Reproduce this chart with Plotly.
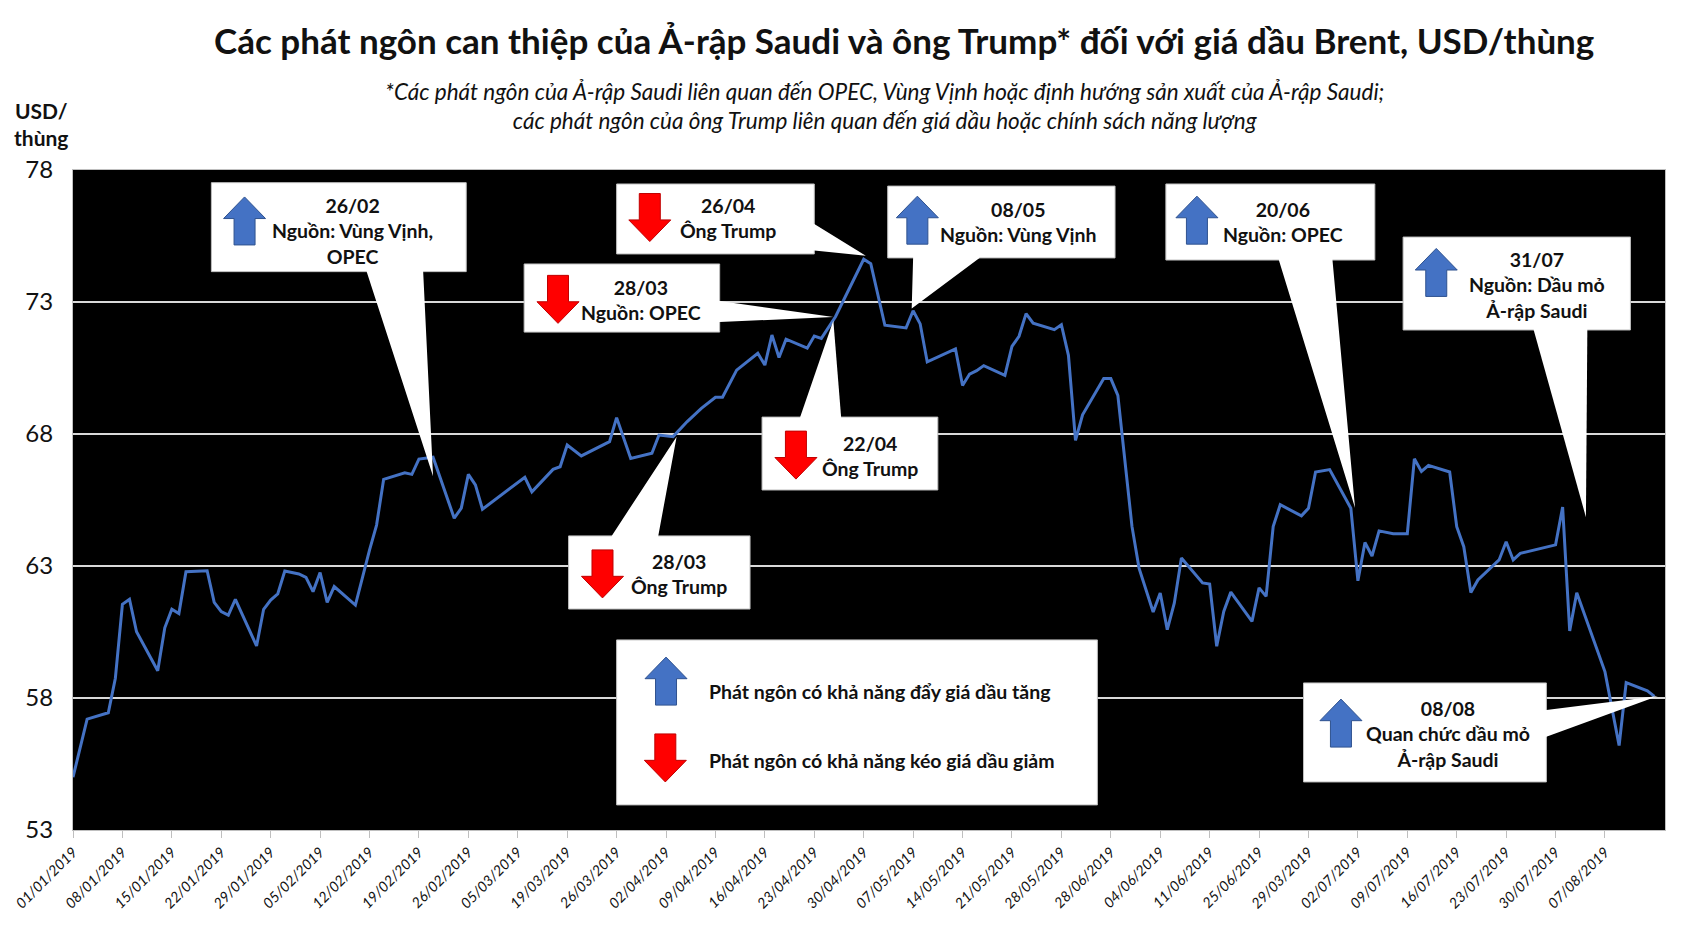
import plotly.graph_objects as go

# Giá dầu Brent, USD/thùng; ngay = số ngày tính từ 01/01/2019 (vị trí trên trục danh mục)
ngay = [0, 2, 5, 6, 7, 8, 9, 12, 13, 14, 15, 16, 19, 20, 21, 22, 23, 26, 27, 28,
        29, 30, 32, 33, 34, 35, 36, 37, 40, 41, 42, 43, 44, 47, 48, 49, 50, 51, 54, 55,
        56, 57, 58, 64, 65, 68, 69, 70, 72, 76, 77, 79, 82, 83, 85, 87, 89, 91, 92, 94,
        97, 98, 99, 100, 101, 104, 105, 106, 108, 112, 113, 115, 118, 119, 120, 121, 125, 126, 127, 128,
        129, 132, 133, 134, 135, 136, 139, 140, 141, 142, 143, 146, 147, 148, 150, 151, 153, 154, 155, 156,
        157, 160, 161, 162, 163, 164, 167, 168, 169, 170, 171, 174, 175, 176, 178, 181, 182, 183, 184, 185,
        187, 189, 190, 191, 192, 195, 196, 197, 198, 199, 202, 203, 204, 205, 210, 211, 212, 213, 217, 219,
        220, 223, 224]
gia = [55.0, 57.2, 57.44, 58.75, 61.55, 61.74, 60.51, 59.03, 60.66, 61.36, 61.2, 62.78, 62.82, 61.62, 61.27, 61.14, 61.74, 59.97, 61.36, 61.71,
       61.94, 62.81, 62.7, 62.57, 62.03, 62.75, 61.62, 62.22, 61.52, 62.57, 63.6, 64.55, 66.28, 66.53, 66.47, 67.05, 67.08, 67.12, 64.81, 65.19,
       66.47, 66.07, 65.15, 66.36, 65.81, 66.66, 66.76, 67.58, 67.17, 67.71, 68.62, 67.07, 67.27, 67.96, 67.9, 68.47, 68.97, 69.39, 69.39, 70.42,
       71.06, 70.61, 71.75, 70.9, 71.59, 71.25, 71.71, 71.62, 72.44, 74.62, 74.45, 72.12, 72.02, 72.67, 72.17, 70.73, 71.22, 69.84, 70.27, 70.4,
       70.59, 70.22, 71.32, 71.7, 72.56, 72.2, 71.95, 72.14, 70.98, 67.76, 68.73, 70.1, 70.1, 69.46, 64.5, 62.92, 61.26, 61.98, 60.59, 61.6,
       63.3, 62.36, 62.32, 59.96, 61.28, 62.01, 60.9, 62.17, 61.85, 64.49, 65.32, 64.9, 65.19, 66.56, 66.65, 65.19, 62.44, 63.89, 63.38, 64.33,
       64.22, 64.22, 67.06, 66.58, 66.81, 66.56, 64.49, 63.73, 62.0, 62.47, 63.23, 63.92, 63.23, 63.48, 63.8, 65.23, 60.54, 61.99, 58.99, 56.2,
       58.58, 58.27, 58.06]

nhan_ngay = ["01/01/2019", "08/01/2019", "15/01/2019", "22/01/2019", "29/01/2019", "05/02/2019",
             "12/02/2019", "19/02/2019", "26/02/2019", "05/03/2019", "19/03/2019", "26/03/2019",
             "02/04/2019", "09/04/2019", "16/04/2019", "23/04/2019", "30/04/2019", "07/05/2019",
             "14/05/2019", "21/05/2019", "28/05/2019", "28/06/2019", "04/06/2019", "11/06/2019",
             "25/06/2019", "29/03/2019", "02/07/2019", "09/07/2019", "16/07/2019", "23/07/2019",
             "30/07/2019", "07/08/2019"]
buoc_nhan = 7

gia_ticks = [53, 58, 63, 68, 73, 78]

W, H = 1689, 931
margin = dict(l=73, r=24, t=170, b=101)
x_range = [0, 225.5]
y_range = [53, 78]
px_x = (W - margin["l"] - margin["r"]) / (x_range[1] - x_range[0])
px_y = (H - margin["t"] - margin["b"]) / (y_range[1] - y_range[0])

BLUE = "#4472C4"
BLUE_EDGE = "#2F528F"
RED = "#FF0000"
RED_EDGE = "#C00000"
FONT = "Lato"
TXT = "#111111"


def arrow_path(cx, cy, up, w=42, h=48):
    hw = w / 2 / px_x
    sw = w / 4 / px_x
    hh = h / 2 / px_y
    head = 0.45 * h / px_y
    s = 1 if up else -1
    tip_y = cy + s * hh
    neck_y = tip_y - s * head
    base_y = cy - s * hh
    pts = [(cx, tip_y), (cx + hw, neck_y), (cx + sw, neck_y), (cx + sw, base_y),
           (cx - sw, base_y), (cx - sw, neck_y), (cx - hw, neck_y)]
    return "M " + " L ".join("{:.3f},{:.3f}".format(x, y) for x, y in pts) + " Z"


def arrow_shape(cx, cy, up):
    return dict(type="path", path=arrow_path(cx, cy, up), xref="x", yref="y",
                fillcolor=BLUE if up else RED, line=dict(color=BLUE_EDGE if up else RED_EDGE, width=1),
                layer="above")


# callout boxes: box=(x0, y0, x1, y1), tail base side, base points, tip
callouts = [
    dict(box=(19.6, 74.15, 55.7, 77.52), side="bottom", base=(41.6, 49.6), tip=(51, 66.4),
         text="26/02<br>Nguồn: Vùng Vịnh,<br>OPEC", t=(39.6, 75.69), a=(24.3, 76.07), up=True),
    dict(box=(77.0, 74.82, 105.0, 77.47), side="right", base=(75.95, 74.95), tip=(112.3, 74.75),
         text="26/04<br>Ông Trump", t=(92.8, 76.18), a=(81.7, 76.2), up=False),
    dict(box=(115.4, 74.67, 147.6, 77.39), side="bottom", base=(119.0, 128.4), tip=(118.8, 72.75),
         text="08/05<br>Nguồn: Vùng Vịnh", t=(133.9, 76.03), a=(119.6, 76.1), up=True),
    dict(box=(63.9, 71.86, 91.6, 74.44), side="right", base=(73.04, 72.24), tip=(107.7, 72.43),
         text="28/03<br>Nguồn: OPEC", t=(80.4, 73.08), a=(68.7, 73.1), up=False),
    dict(box=(97.6, 65.88, 122.5, 68.64), side="top", base=(103.0, 108.8), tip=(107.7, 72.3),
         text="22/04<br>Ông Trump", t=(112.9, 67.17), a=(102.4, 67.2), up=False),
    dict(box=(70.2, 61.37, 95.9, 64.14), side="top", base=(76.3, 82.9), tip=(85.5, 67.9),
         text="28/03<br>Ông Trump", t=(85.8, 62.7), a=(75.0, 62.7), up=False),
    dict(box=(154.8, 74.59, 184.4, 77.47), side="bottom", base=(170.8, 178.4), tip=(181.6, 65.2),
         text="20/06<br>Nguồn: OPEC", t=(171.4, 76.03), a=(159.2, 76.1), up=True),
    dict(box=(188.4, 71.94, 220.6, 75.46), side="bottom", base=(206.9, 214.5), tip=(214.3, 64.85),
         text="31/07<br>Nguồn: Dầu mỏ<br>Ả-rập Saudi", t=(207.3, 73.64), a=(193.1, 74.12), up=True),
    dict(box=(174.3, 54.82, 208.7, 58.57), side="right", base=(57.55, 56.53), tip=(224.5, 58.08),
         text="08/08<br>Quan chức dầu mỏ<br>Ả-rập Saudi", t=(194.8, 56.64), a=(179.6, 57.05), up=True),
]

legend_box = (77.0, 53.95, 145.1, 60.2)
legend_items = [
    dict(text="Phát ngôn có khả năng đẩy giá dầu tăng", a=(84.0, 58.64), tx=89.8, ty=58.23, up=True),
    dict(text="Phát ngôn có khả năng kéo giá dầu giảm", a=(83.9, 55.73), tx=89.8, ty=55.65, up=False),
]

fig = go.Figure()
fig.add_trace(go.Scatter(x=ngay, y=gia, mode="lines", line=dict(color=BLUE, width=3),
                         showlegend=False, hoverinfo="skip"))

shapes = []
annotations = []
box_line = dict(color="#bfbfbf", width=1)

for c in callouts:
    x0, y0, x1, y1 = c["box"]
    shapes.append(dict(type="rect", x0=x0, y0=y0, x1=x1, y1=y1, xref="x", yref="y",
                       fillcolor="white", line=box_line, layer="above"))
    b1, b2 = c["base"]
    ix, iy = 2 / px_x, 2 / px_y
    if c["side"] == "bottom":
        pts = [(b1, y0), c["tip"], (b2, y0), (b2, y0 + iy), (b1, y0 + iy)]
    elif c["side"] == "top":
        pts = [(b1, y1), c["tip"], (b2, y1), (b2, y1 - iy), (b1, y1 - iy)]
    else:
        pts = [(x1, b1), c["tip"], (x1, b2), (x1 - ix, b2), (x1 - ix, b1)]
    path = "M " + " L ".join("{:.3f},{:.3f}".format(x, y) for x, y in pts) + " Z"
    shapes.append(dict(type="path", path=path, xref="x", yref="y", fillcolor="white",
                       line=dict(width=0), layer="above"))
    shapes.append(arrow_shape(c["a"][0], c["a"][1], c["up"]))
    annotations.append(dict(x=c["t"][0], y=c["t"][1], xref="x", yref="y", text="<b>" + c["text"] + "</b>",
                            showarrow=False, xanchor="center", yanchor="middle", align="center",
                            font=dict(family=FONT, size=19.5, color=TXT)))

lx0, ly0, lx1, ly1 = legend_box
shapes.append(dict(type="rect", x0=lx0, y0=ly0, x1=lx1, y1=ly1, xref="x", yref="y",
                   fillcolor="white", line=box_line, layer="above"))
for item in legend_items:
    shapes.append(arrow_shape(item["a"][0], item["a"][1], item["up"]))
    annotations.append(dict(x=item["tx"], y=item["ty"], xref="x", yref="y", text="<b>" + item["text"] + "</b>",
                            showarrow=False, xanchor="left", yanchor="middle",
                            font=dict(family=FONT, size=19.5, color=TXT)))

# title, subtitle, unit
annotations.append(dict(x=0.522, y=1.197, xref="paper", yref="paper", showarrow=False,
                        text="<b>Các phát ngôn can thiệp của Ả-rập Saudi và ông Trump* đối với giá dầu Brent, USD/thùng</b>",
                        xanchor="center", yanchor="middle", font=dict(family=FONT, size=35, color=TXT)))
annotations.append(dict(x=0.51, y=1.097, xref="paper", yref="paper", showarrow=False,
                        text="<i>*Các phát ngôn của Ả-rập Saudi liên quan đến OPEC, Vùng Vịnh hoặc định hướng sản xuất của Ả-rập Saudi;<br>"
                             "các phát ngôn của ông Trump liên quan đến giá dầu hoặc chính sách năng lượng</i>",
                        xanchor="center", yanchor="middle", align="center",
                        font=dict(family=FONT, size=22.5, color=TXT)))
annotations.append(dict(x=-0.02, y=1.07, xref="paper", yref="paper", showarrow=False,
                        text="<b>USD/<br>thùng</b>", xanchor="center", yanchor="middle", align="center",
                        font=dict(family=FONT, size=21, color=TXT)))

fig.update_layout(
    width=W, height=H, margin=margin,
    paper_bgcolor="white", plot_bgcolor="black",
    shapes=shapes, annotations=annotations, showlegend=False,
    xaxis=dict(range=x_range, tickmode="array",
               tickvals=[i * buoc_nhan for i in range(len(nhan_ngay))], ticktext=nhan_ngay,
               tickangle=-45, ticks="outside", ticklen=7, tickcolor="#bfbfbf",
               tickfont=dict(family=FONT, size=14.5, color=TXT, style="italic"),
               showgrid=False, zeroline=False, showline=True, linecolor="#bfbfbf", mirror=True),
    yaxis=dict(range=y_range, tickmode="array", tickvals=gia_ticks,
               tickfont=dict(family=FONT, size=24, color=TXT), ticklabelstandoff=14,
               showgrid=True, gridcolor="#d9d9d9", gridwidth=1.5, zeroline=False,
               showline=True, linecolor="#bfbfbf", mirror=True),
)

fig.write_html("out.html", config={"displayModeBar": False},
               post_script="document.body.style.margin = '0px';")
